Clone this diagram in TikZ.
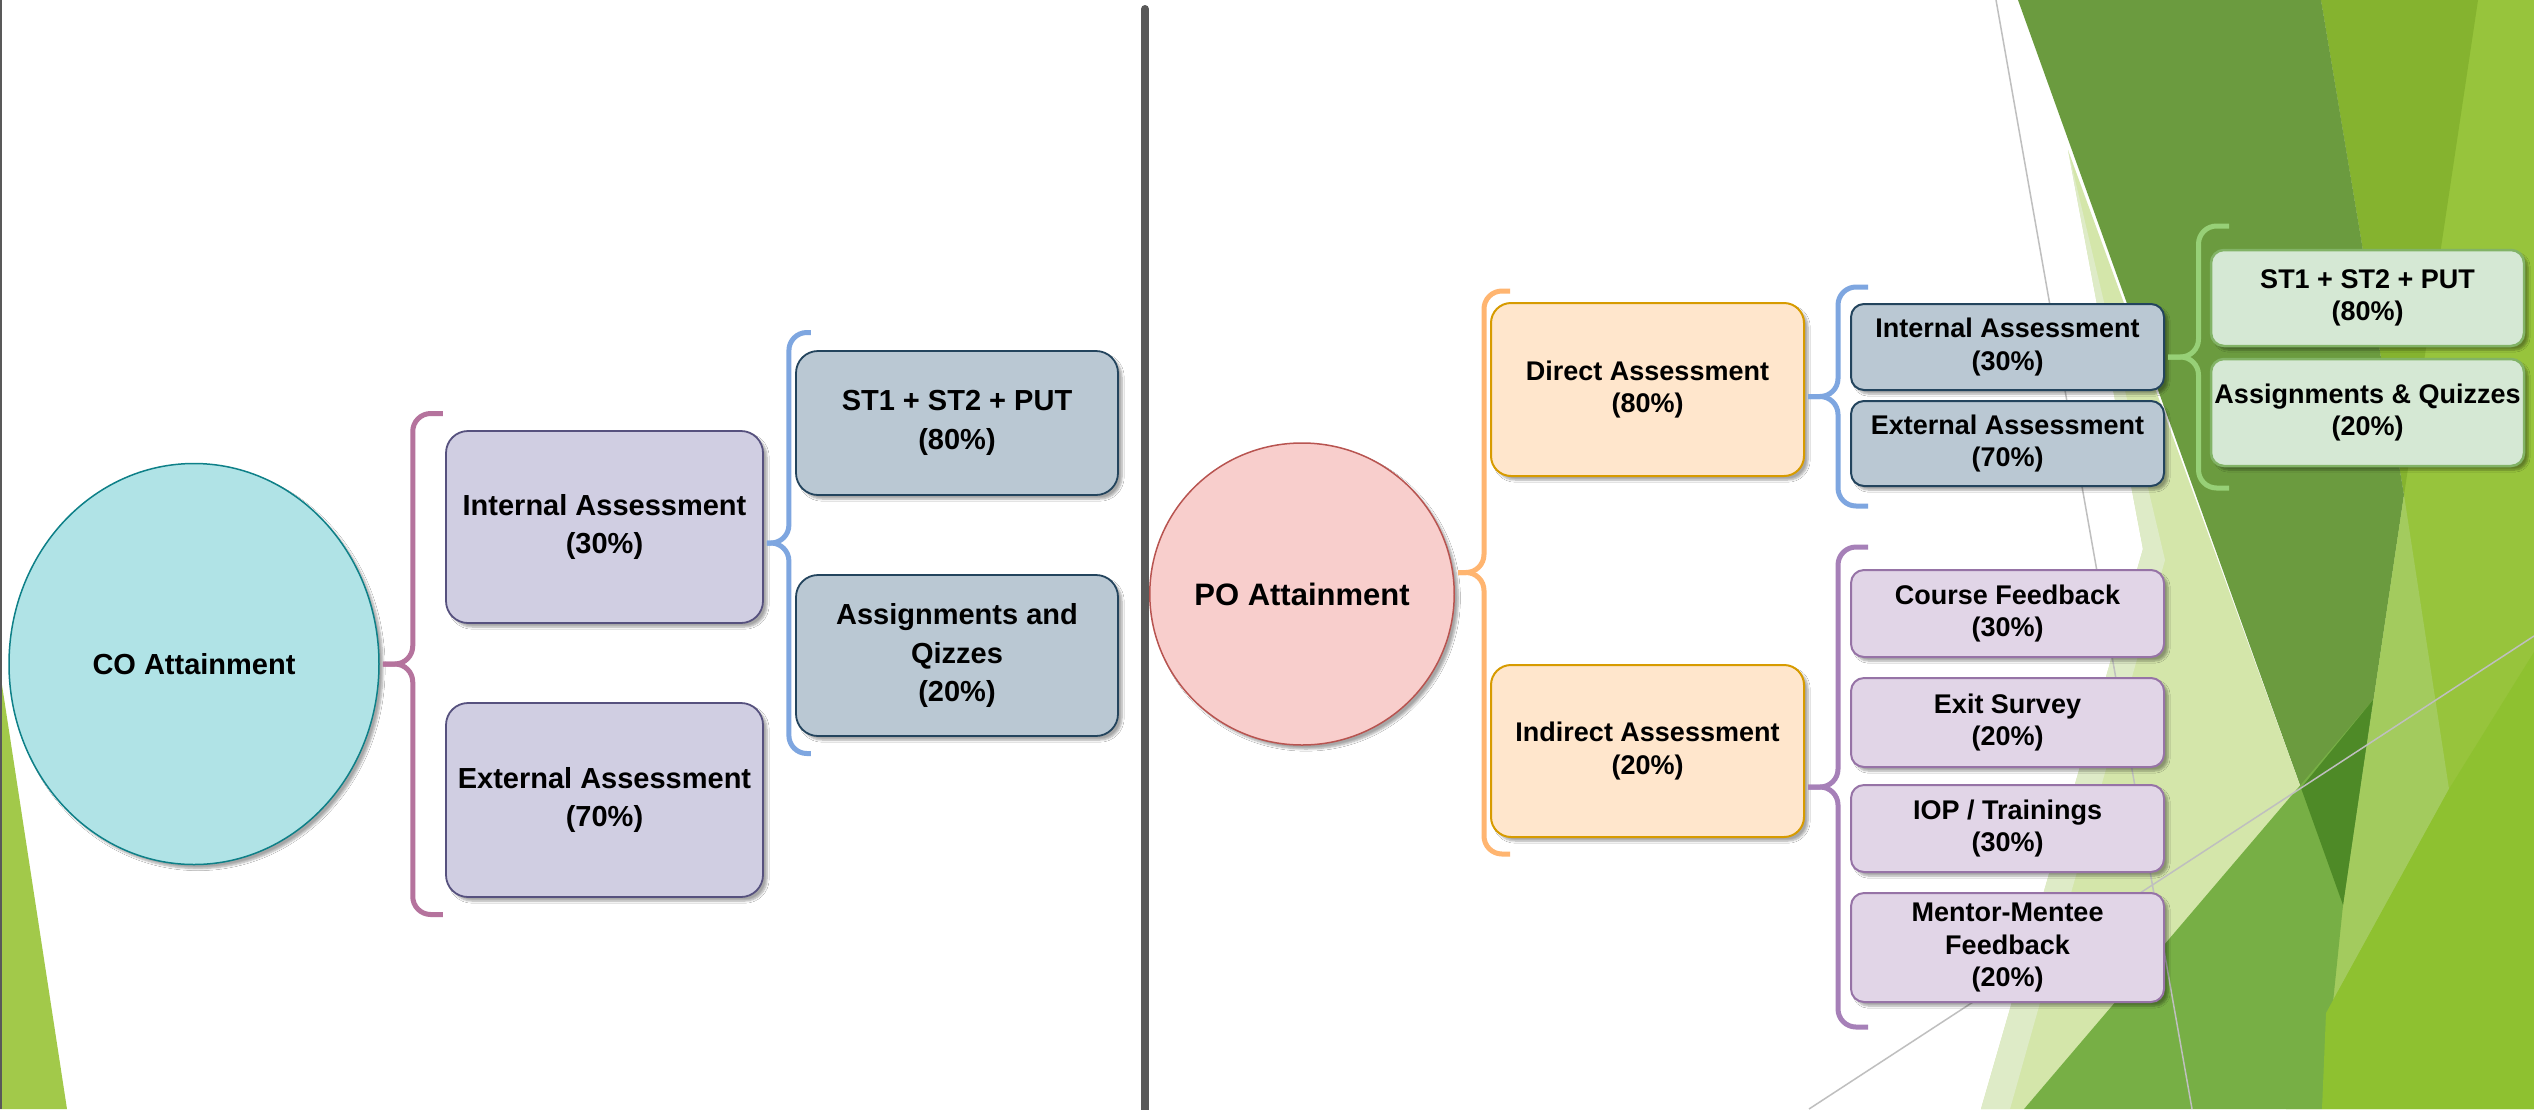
\documentclass[tikz,border=0pt]{standalone}
\usepackage{fontspec}
\setmainfont{Liberation Sans}
\usepackage{tikz}
\usetikzlibrary{shapes.geometric,shadows.blur}
\definecolor{coFill}{HTML}{B0E3E6}\definecolor{coLine}{HTML}{0E8088}
\definecolor{poFill}{HTML}{F8CECC}\definecolor{poLine}{HTML}{B85450}
\definecolor{mauveFill}{HTML}{D0CEE2}\definecolor{mauveLine}{HTML}{56517E}
\definecolor{slateFill}{HTML}{BAC8D3}\definecolor{slateLine}{HTML}{23445D}
\definecolor{peachFill}{HTML}{FFE6CC}\definecolor{peachLine}{HTML}{D79B00}
\definecolor{lilacFill}{HTML}{E1D5E7}\definecolor{lilacLine}{HTML}{9673A6}
\definecolor{mintFill}{HTML}{D5E8D4}\definecolor{mintLine}{HTML}{82B366}
\definecolor{braceRose}{HTML}{B5739D}\definecolor{braceBlue}{HTML}{7EA6E0}
\definecolor{braceOrange}{HTML}{FFB570}\definecolor{bracePurple}{HTML}{A680B8}
\definecolor{braceGreen}{HTML}{97D077}
\definecolor{barGray}{HTML}{595959}\definecolor{thinGray}{HTML}{BFBFBF}
\definecolor{bgLime}{HTML}{97C43C}\definecolor{bgGrass}{HTML}{85B32F}
\definecolor{bgMoss}{HTML}{6B9B3F}\definecolor{bgPale}{HTML}{D4E6AA}
\definecolor{bgWash}{HTML}{DEEBC7}\definecolor{bgLight}{HTML}{A3CB5E}
\definecolor{bgLeaf}{HTML}{77AF45}\definecolor{bgDeep}{HTML}{4E8A27}
\definecolor{bgLime2}{HTML}{8EC130}\definecolor{bgCorner}{HTML}{A2C94A}
\tikzstyle{shadowed}=[blur shadow = {shadow xshift = 4pt, shadow yshift = -4pt, shadow blur steps = 6, shadow opacity = 35}]
\tikzstyle{bigText}=[font = \bfseries\fontsize{29}{38.5}\selectfont]
\tikzstyle{smallText}=[font = \bfseries\fontsize{27}{32.5}\selectfont]
\tikzstyle{roundBox}=[shape = rectangle, rounded corners = 22pt, draw, line width = 1.8pt, align = center, inner sep = 0pt, shadowed, bigText]
\tikzstyle{slimBox}=[shape = rectangle, rounded corners = 13pt, draw, line width = 2pt, align = center, inner sep = 0pt, minimum width = 313pt, shadowed, smallText]
\tikzstyle{blob}=[shape = ellipse, draw, line width = 1.5pt, inner sep = 0pt, shadowed]
% brace: style, parent node, mid y, half height, width
\newcommand{\Brace}[5]{%
\draw[brace, #1] (#2.east |- 0,#3) ++(3,0) coordinate (#2tip) -- ++({#5/2},0) -- ++(0,-#4) -- ++({#5/2},0);
\draw[brace, #1] (#2tip) -- ++({#5/2},0) -- ++(0,#4) -- ++({#5/2},0);
}

\begin{document}
\begin{tikzpicture}[x = 1pt, y = -1pt]
\tikzstyle{brace}=[line width = 5pt, rounded corners = 18pt]
\useasboundingbox (0,0) rectangle (2534,1109);
\fill[white] (0,0) rectangle (2534,1109);
% background
\fill[bgCorner] (0,672) -- (67,1109) -- (0,1109) -- cycle;
\fill[barGray] (0,0) rectangle (2,1109);
\fill[bgLime] (2321,0) -- (2534,0) -- (2534,1109) -- (2286,1109) -- (2343,905) -- (2404,495) -- cycle;
\fill[bgGrass] (2321,0) -- (2478,0) -- (2404,495) -- cycle;
\fill[bgMoss] (2018,0) -- (2321,0) -- (2404,495) -- (2343,905) -- cycle;
\fill[bgPale] (2068,150) -- (2143,549) -- (1981,1109) -- (2024,1109) -- (2301,788) -- cycle;
\fill[bgWash] (2068,150) -- (2143,549) -- (1981,1109) -- (2010,1109) -- (2165,560) -- cycle;
\fill[bgLight] (2404,495) -- (2449,789) -- (2326,1013) -- (2343,905) -- cycle;
\fill[bgLeaf] (2024,1109) -- (2373,700) -- (2343,905) -- (2322,1109) -- cycle;
\fill[bgDeep] (2301,788) -- (2373,700) -- (2343,905) -- cycle;
\fill[bgLime2] (2322,1109) -- (2326,1013) -- (2449,789) -- (2534,652) -- (2534,1109) -- cycle;
\draw[thinGray, line width = 1.5pt] (1996,0) -- (2192,1109);
\draw[thinGray, line width = 1.5pt] (1809,1109) -- (2534,636);
\draw[barGray, line width = 8pt, line cap = round] (1145,9) -- (1145,1112);

% CO attainment
\node[blob, fill = coFill, draw = coLine, minimum width = 370pt, minimum height = 401pt, bigText] (co) at (194,664) {CO Attainment};
\node[roundBox, fill = mauveFill, draw = mauveLine, minimum width = 317pt, minimum height = 192pt] (li) at (604.5,527) {Internal Assessment\\(30\%)};
\node[roundBox, fill = mauveFill, draw = mauveLine, minimum width = 317pt, minimum height = 194pt] (le) at (604.5,800) {External Assessment\\(70\%)};
\node[roundBox, fill = slateFill, draw = slateLine, minimum width = 322pt, minimum height = 144pt] (lst) at (957,423) {ST1 + ST2 + PUT\\(80\%)};
\node[roundBox, fill = slateFill, draw = slateLine, minimum width = 322pt, minimum height = 161pt] (laq) at (957,655.5) {Assignments and\\Qizzes\\(20\%)};
\Brace{braceRose}{co}{664}{250.5}{60}
\Brace{braceBlue}{li}{543}{210.5}{44}

% PO attainment
\node[blob, fill = poFill, draw = poLine, minimum width = 294pt, minimum height = 302pt, font = \bfseries\fontsize{31}{36}\selectfont] (po) at (1302,594) {PO Attainment};
\node[slimBox, rounded corners = 20pt, fill = peachFill, draw = peachLine, minimum height = 173pt] (rd) at (1647.5,389.5) {Direct Assessment\\(80\%)};
\node[slimBox, rounded corners = 20pt, fill = peachFill, draw = peachLine, minimum height = 172pt] (ri) at (1647.5,751) {Indirect Assessment\\(20\%)};
\node[slimBox, fill = slateFill, draw = slateLine, minimum height = 86pt] (rin) at (2007.5,347) {Internal Assessment\\(30\%)};
\node[slimBox, fill = slateFill, draw = slateLine, minimum height = 85pt] (rex) at (2007.5,443.5) {External Assessment\\(70\%)};
\node[slimBox, fill = lilacFill, draw = lilacLine, minimum height = 87pt] (rcf) at (2007.5,613.5) {Course Feedback\\(30\%)};
\node[slimBox, fill = lilacFill, draw = lilacLine, minimum height = 89pt] (res) at (2007.5,722.5) {Exit Survey\\(20\%)};
\node[slimBox, fill = lilacFill, draw = lilacLine, minimum height = 87pt] (rio) at (2007.5,828.5) {IOP / Trainings\\(30\%)};
\node[slimBox, fill = lilacFill, draw = lilacLine, minimum height = 109pt] (rmm) at (2007.5,947.5) {Mentor-Mentee\\Feedback\\(20\%)};
\node[slimBox, fill = mintFill, draw = mintLine, line width = 2.5pt, minimum height = 96pt] (rst) at (2367.5,298) {ST1 + ST2 + PUT\\(80\%)};
\node[slimBox, fill = mintFill, draw = mintLine, line width = 2.5pt, minimum height = 107pt] (raq) at (2367.5,412.5) {Assignments \& Quizzes\\(20\%)};
\Brace{braceOrange}{po}{572.5}{281.5}{52}
\Brace{braceBlue}{rd}{396.5}{109.5}{60}
\Brace{bracePurple}{ri}{787}{240}{60}
\Brace{braceGreen}{rin}{357}{131}{61}
\end{tikzpicture}
\end{document}
